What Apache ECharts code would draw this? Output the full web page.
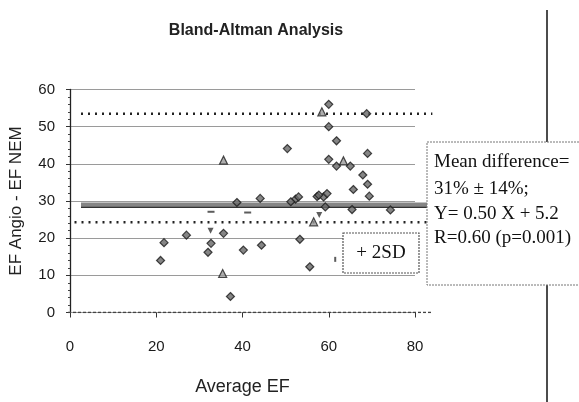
<!DOCTYPE html>
<html>
<head>
<meta charset="utf-8">
<script src="https://cdn.jsdelivr.net/npm/echarts@6/dist/echarts.min.js"></script>
<style>html,body{margin:0;padding:0;background:#fff;}#c{width:579px;height:402px;}</style>
</head>
<body>
<div id="c"></div>
<script>
// ---- data ----
var diamondPts = [
  [21.0,14.0],[21.8,18.8],[27.0,20.8],[32.0,16.2],[32.7,18.6],[35.6,21.3],[37.2,4.3],
  [40.2,16.8],[44.4,18.1],[53.3,19.7],[55.6,12.3],[50.4,44.1],[60.0,56.0],[60.0,50.0],
  [61.8,46.2],[60.0,41.2],[61.8,39.4],[65.0,39.4],[69.0,42.8],[67.9,37.0],[69.0,34.5],
  [65.7,33.1],[69.4,31.3],[52.3,30.5],[53.0,31.1],[51.2,29.8],[57.3,31.2],[58.8,31.1],
  [59.6,32.0],[57.7,31.6],[44.1,30.7],[38.7,29.6],[65.4,27.7],[74.3,27.6],[59.2,28.4],
  [68.8,53.5]
];
var triUpPts = [[35.6,41.0],[35.4,10.5],[58.4,54.0],[63.4,40.8],[56.5,24.4]];
var triDownPts = [[32.6,22.0],[57.8,26.2]];
var dashPts = [[32.7,27.1],[41.2,26.9]];
var tickPts = [[61.5,14.3]];
var meanDiff = 28.9;
var upperSD = 53.5;
var lowerSD = 24.3;
var lineStartUpper = 3;
var lineStartLower = 1.5;
var lineStartMean = 3;
var lineEnd = 84;
var xTicks = [0, 20, 40, 60, 80];
var yTicks = [0, 10, 20, 30, 40, 50, 60];
var titleText = 'Bland-Altman Analysis';
var xName = 'Average EF';
var yName = 'EF Angio - EF NEM';
var statLines = ['Mean difference=', '31% \u00b1 14%;', 'Y= 0.50 X + 5.2', 'R=0.60 (p=0.001)'];
var sdLabel = '+ 2SD';

var chart = echarts.init(document.getElementById('c'));
var xMax = xTicks[xTicks.length - 1];
var plotW = 347, plotL = 68, plotT = 89.5, plotH = 223;
var mk = { color: '#666', borderColor: '#1a1a1a', borderWidth: 1.2 };
var tri = { color: '#9a9a9a', borderColor: '#222', borderWidth: 1.2 };
var option = {
  backgroundColor: '#fff',
  animation: false,
  grid: [
    { left: plotL, top: plotT, width: plotW, height: plotH },
    { left: plotL, top: plotT, width: plotW * lineEnd / xMax, height: plotH }
  ],
  xAxis: [{
    type: 'value', min: xTicks[0], max: xMax, interval: 20,
    name: xName, nameLocation: 'middle', nameGap: 66,
    nameTextStyle: { fontFamily: 'Liberation Sans', fontSize: 18, color: '#222' },
    axisLine: { show: false },
    axisTick: { show: true, length: 5, lineStyle: { color: '#333' } },
    axisLabel: { margin: 27, fontFamily: 'Liberation Sans', fontSize: 15, color: '#1a1a1a' },
    splitLine: { show: false }
  }, {
    gridIndex: 1, type: 'value', min: 0, max: lineEnd, show: false
  }],
  yAxis: [{
    type: 'value', min: yTicks[0], max: yTicks[yTicks.length - 1], interval: 10,
    name: yName, nameLocation: 'middle', nameGap: 45, nameRotate: 90,
    nameTextStyle: { fontFamily: 'Liberation Sans', fontSize: 17, color: '#222' },
    axisLine: { show: true, lineStyle: { color: '#222', width: 1.3 } },
    axisTick: { show: true, length: 4, lineStyle: { color: '#333' } },
    minorTick: { show: true, splitNumber: 5, length: 2, lineStyle: { color: '#444' } },
    axisLabel: { margin: 15, fontFamily: 'Liberation Sans', fontSize: 15, color: '#1a1a1a' },
    splitLine: { show: true, lineStyle: { color: '#9a9a9a', width: 1.2 } }
  }, {
    gridIndex: 1, type: 'value', min: yTicks[0], max: yTicks[yTicks.length - 1], show: false
  }],
  series: [
    { type: 'line', xAxisIndex: 1, yAxisIndex: 1, symbol: 'none', silent: true, z: 1,
      data: [[0, 0], [lineEnd, 0]],
      lineStyle: { color: '#444', width: 1.4, type: [3, 2] } },
    { type: 'line', xAxisIndex: 1, yAxisIndex: 1, symbol: 'none', silent: true, z: 2,
      data: [[lineStartMean, meanDiff], [lineEnd, meanDiff]],
      lineStyle: { color: '#858585', width: 5 } },
    { type: 'line', xAxisIndex: 1, yAxisIndex: 1, symbol: 'none', silent: true, z: 2,
      data: [[lineStartMean, meanDiff - 0.6], [lineEnd, meanDiff - 0.6]],
      lineStyle: { color: '#333', width: 1.2 } },
    { type: 'line', xAxisIndex: 1, yAxisIndex: 1, symbol: 'none', silent: true, z: 2,
      data: [[lineStartUpper, upperSD], [lineEnd, upperSD]],
      lineStyle: { color: '#222', width: 2.5, type: [2, 5] } },
    { type: 'line', xAxisIndex: 1, yAxisIndex: 1, symbol: 'none', silent: true, z: 2,
      data: [[lineStartLower, lowerSD], [lineEnd, lowerSD]],
      lineStyle: { color: '#222', width: 2.5, type: [2, 5] } },
    { type: 'scatter', symbol: 'diamond', symbolSize: 8, data: diamondPts, itemStyle: mk, z: 5 },
    { type: 'scatter', symbol: 'triangle', symbolSize: 8, data: triUpPts, itemStyle: tri, z: 5 },
    { type: 'scatter', symbol: 'triangle', symbolRotate: 180, symbolSize: 6, data: triDownPts, itemStyle: { color: '#333' }, z: 5 },
    { type: 'scatter', symbol: 'rect', symbolSize: [7, 2], data: dashPts, itemStyle: { color: '#333' }, z: 5 },
    { type: 'scatter', symbol: 'rect', symbolSize: [2, 5], data: tickPts, itemStyle: { color: '#333' }, z: 5 }
  ],
  graphic: [
    { type: 'text', z: 10, x: 256, y: 31,
      style: { text: titleText, fontFamily: 'Liberation Sans', fontSize: 16, fontWeight: 'bold', fill: '#222', textAlign: 'center', textVerticalAlign: 'middle' } },
    { type: 'line', z: 8, shape: { x1: 547, y1: 10, x2: 547, y2: 402 }, style: { stroke: '#111', lineWidth: 1.5 } },
    { type: 'rect', z: 9, shape: { x: 427, y: 142, width: 160, height: 143 },
      style: { fill: '#fff', stroke: '#777', lineWidth: 1, lineDash: [2, 1] } },
    { type: 'text', z: 10, x: 434, y: 162,
      style: { text: statLines[0], fontFamily: 'Liberation Serif', fontSize: 19, fill: '#111', textVerticalAlign: 'middle' } },
    { type: 'text', z: 10, x: 434, y: 189,
      style: { text: statLines[1], fontFamily: 'Liberation Serif', fontSize: 19, fill: '#111', textVerticalAlign: 'middle' } },
    { type: 'text', z: 10, x: 434, y: 214,
      style: { text: statLines[2], fontFamily: 'Liberation Serif', fontSize: 19, fill: '#111', textVerticalAlign: 'middle' } },
    { type: 'text', z: 10, x: 434, y: 238,
      style: { text: statLines[3], fontFamily: 'Liberation Serif', fontSize: 19, fill: '#111', textVerticalAlign: 'middle' } },
    { type: 'rect', z: 9, shape: { x: 343, y: 233, width: 76, height: 40 },
      style: { fill: '#fff', stroke: '#555', lineWidth: 1.2, lineDash: [2, 1] } },
    { type: 'text', z: 10, x: 381, y: 253,
      style: { text: sdLabel, fontFamily: 'Liberation Serif', fontSize: 19, fill: '#111', textAlign: 'center', textVerticalAlign: 'middle' } }
  ]
};
chart.setOption(option);
</script>
</body>
</html>
